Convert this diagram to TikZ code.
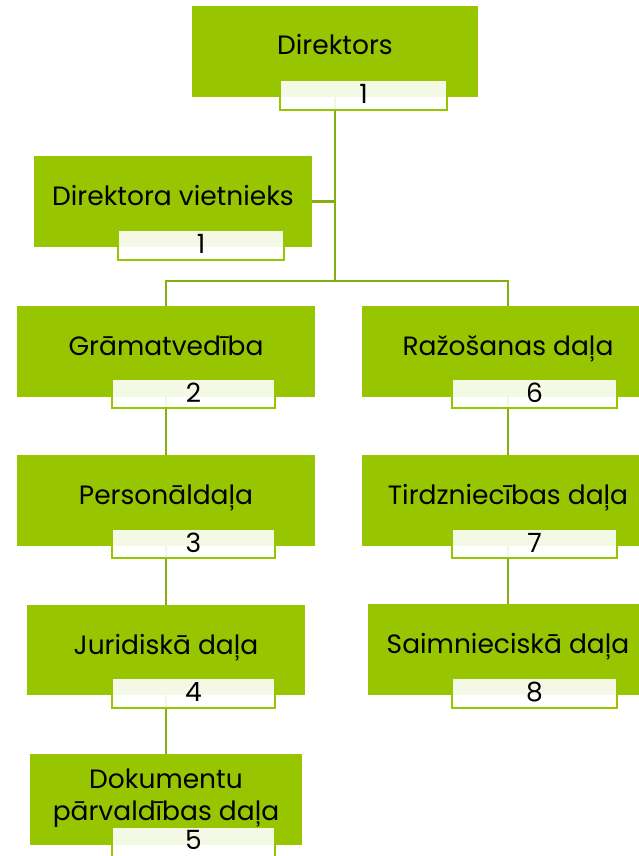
\documentclass[tikz,border=0pt]{standalone}
\usepackage{fontspec}
\setmainfont{Poppins}
\definecolor{gr}{HTML}{97C600}
\definecolor{ln}{HTML}{86AD12}
\begin{document}
\begin{tikzpicture}[x=1pt,y=-1pt,
 gbox/.style={fill=gr, draw=none, inner sep=0, minimum height=91},
 lbox/.style={fill=white, fill opacity=0.9, draw=gr, line width=2, inner sep=0, minimum width=165, minimum height=30},
 txt/.style={font=\fontsize{26.5}{32}\selectfont, anchor=base, inner sep=0, align=center},
 conn/.style={draw=ln, line width=2.5}]
\useasboundingbox (0,0) rectangle (639,856);
\clip (0,0) rectangle (639,856);
% green boxes
\node[gbox, minimum width=286] (d) at (335,51.5) {};
\node[gbox, minimum width=278] (v) at (173,201.5) {};
\node[gbox, minimum width=298] (g) at (166,351.5) {};
\node[gbox, minimum width=292] (r) at (508,351.5) {};
\node[gbox, minimum width=298] (p) at (166,500.5) {};
\node[gbox, minimum width=292] (t) at (508,500.5) {};
\node[gbox, minimum width=278, minimum height=90] (j) at (166,650) {};
\node[gbox, minimum width=280] (s) at (508,649.5) {};
\node[gbox, minimum width=272] (k) at (166,799.5) {};
% connectors
\coordinate (hub) at (335,281);
\draw[conn] (d.south) -- (hub);
\draw[conn] (v.east) -- (v.east -| d.south);
\draw[conn] (hub) -| (g.north);
\draw[conn] (hub) -| (r.north);
\draw[conn] (g.south) -- (p.north);
\draw[conn] (p.south) -- (j.north);
\draw[conn] (j.south) -- (k.north);
\draw[conn] (r.south) -- (t.north);
\draw[conn] (t.south) -- (s.north);
% label boxes
\node[lbox, minimum width=167] (dl) at (363.5,95) {};
\node[lbox, minimum width=166] (vl) at (201,245) {};
\node[lbox, minimum width=163, minimum height=29] (gl) at (193.5,393.5) {};
\node[lbox, minimum width=165, minimum height=29] (rl) at (534.5,393.5) {};
\node[lbox, minimum width=163, minimum height=29] (pl) at (193.5,543.5) {};
\node[lbox, minimum width=165, minimum height=29] (tl) at (534.5,543.5) {};
\node[lbox, minimum width=163] (jl) at (193.5,693) {};
\node[lbox, minimum width=165] (sl) at (534.5,693) {};
\node[lbox, minimum width=163] (kl) at (193.5,842) {};
% texts
\node[txt] (dt) at (335,55) {Direktors};
\node[txt] (vt) at (173,205) {Direktora vietnieks};
\node[txt] (gt) at (166,355) {Grāmatvedība};
\node[txt] (rt) at (508,355) {Ražošanas daļa};
\node[txt] (pt) at (166,504) {Personāldaļa};
\node[txt] (tt) at (508,504) {Tirdzniecības daļa};
\node[txt] (jt) at (166,654) {Juridiskā daļa};
\node[txt] (st) at (508,653) {Saimnieciskā daļa};
\node[txt] (kt1) at (166,788) {Dokumentu};
\node[txt] (kt2) at (166,820) {pārvaldības daļa};
% numbers
\node[txt] (dn) at (363.5,103) {1};
\node[txt] (vn) at (201,253) {1};
\node[txt] (gn) at (193.5,402) {2};
\node[txt] (rn) at (534.5,402) {6};
\node[txt] (pn) at (193.5,552) {3};
\node[txt] (tn) at (534.5,552) {7};
\node[txt] (jn) at (193.5,701) {4};
\node[txt] (sn) at (534.5,701) {8};
\node[txt] (kn) at (193.5,849) {5};
\end{tikzpicture}
\end{document}
